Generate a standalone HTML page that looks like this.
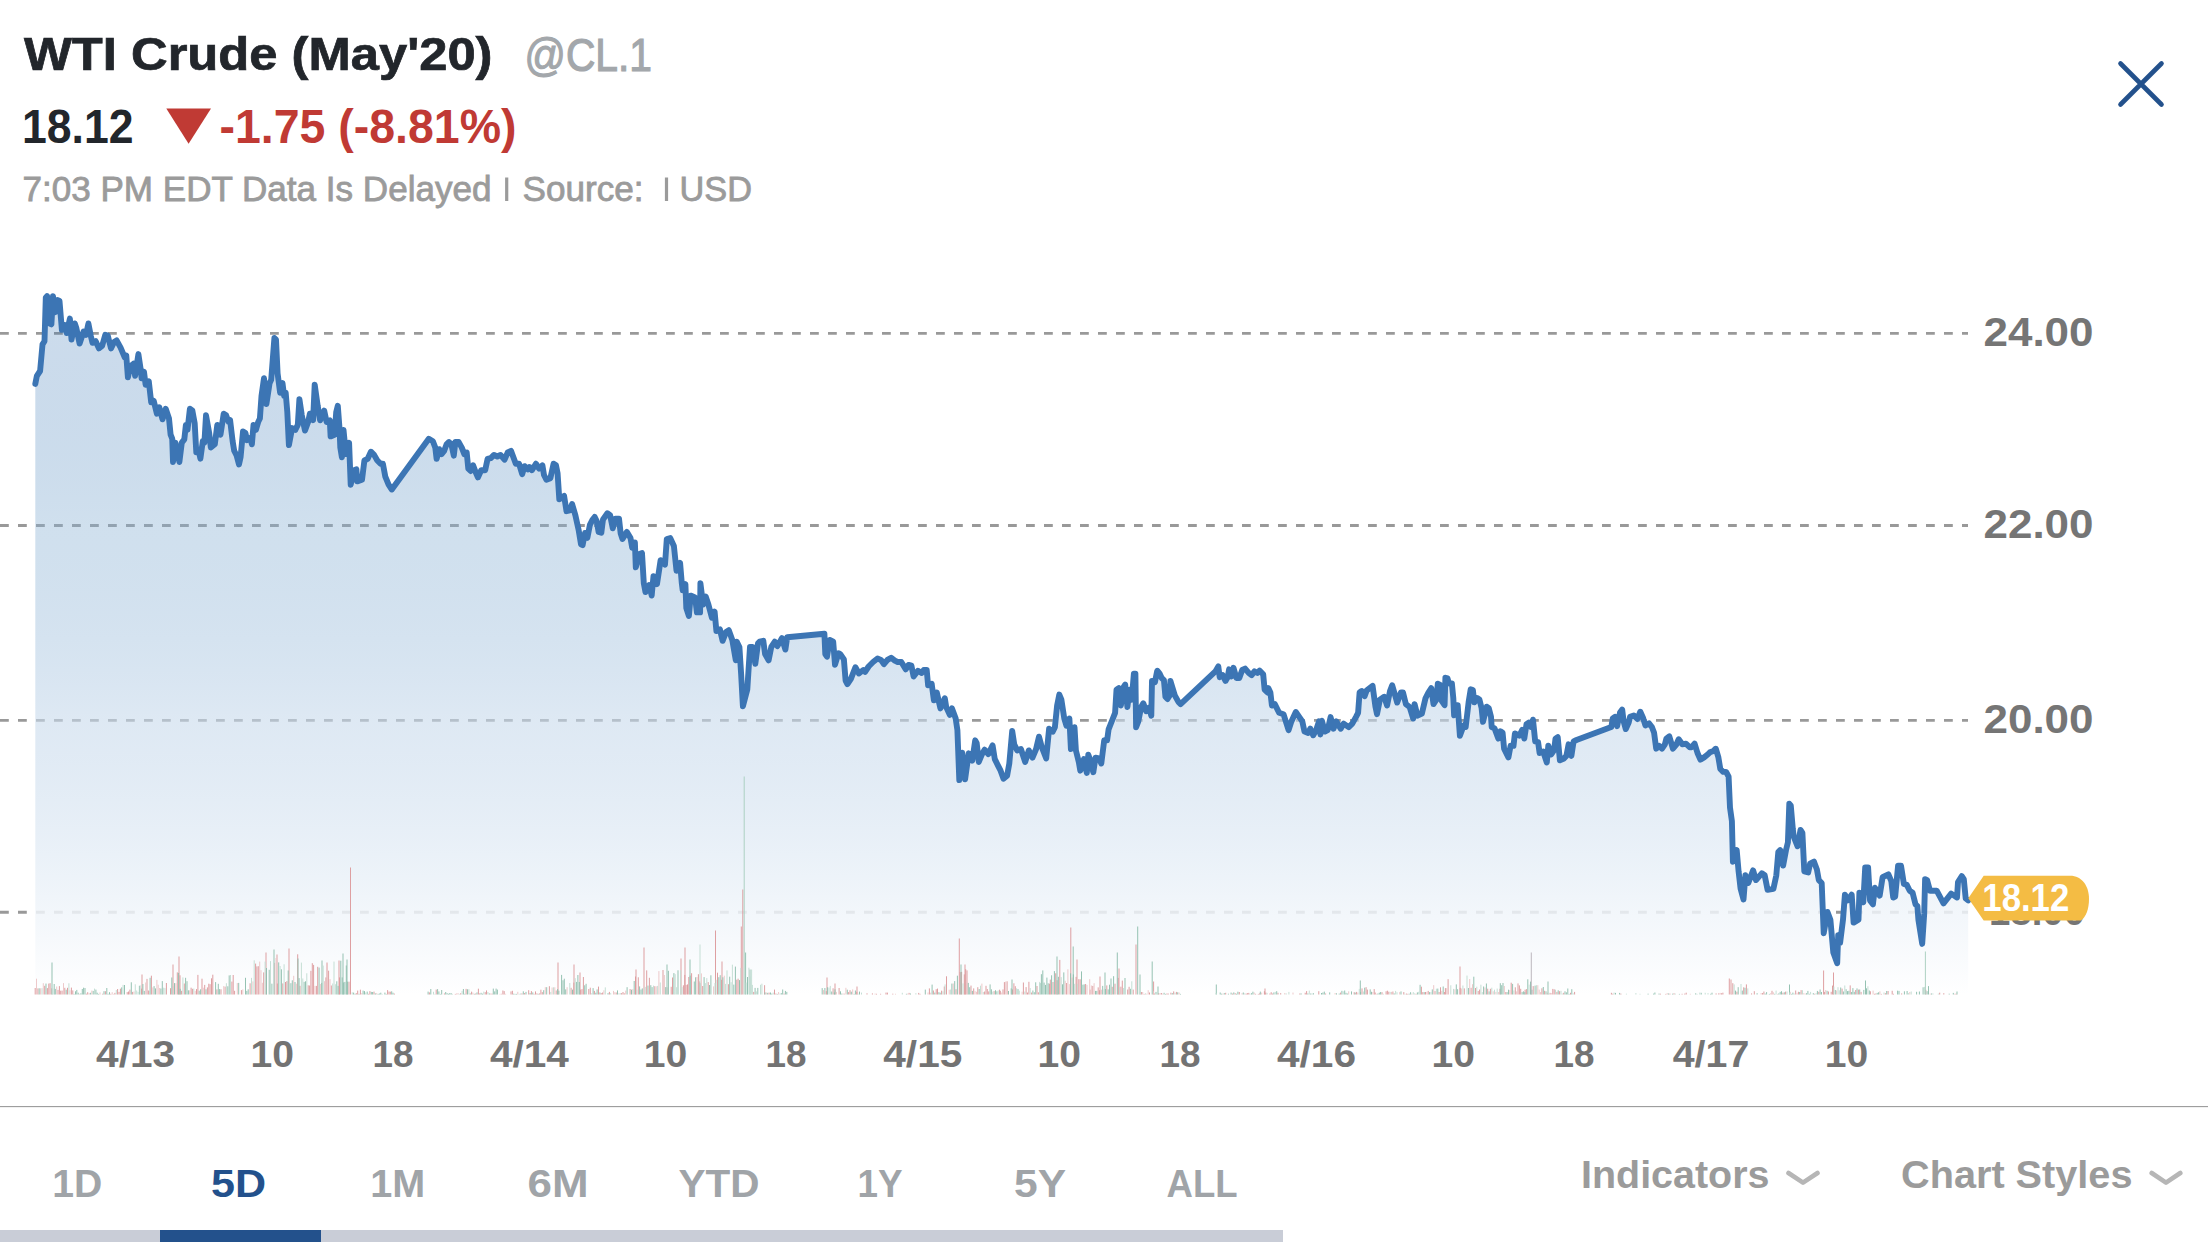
<!DOCTYPE html><html lang="en"><head><meta charset="utf-8"><title>WTI Crude (May'20) @CL.1</title><style>html,body{margin:0;padding:0;background:#fff;overflow:hidden}svg{display:block}text{font-family:"Liberation Sans", Arial, sans-serif}</style></head><body>
<svg width="2208" height="1242" viewBox="0 0 2208 1242">
<defs><linearGradient id="ag" x1="0" y1="295" x2="0" y2="995" gradientUnits="userSpaceOnUse"><stop offset="0" stop-color="rgb(40,105,175)" stop-opacity="0.23"/><stop offset="0.329" stop-color="rgb(137,177,212)" stop-opacity="0.4"/><stop offset="0.607" stop-color="rgb(200,218,236)" stop-opacity="0.6"/><stop offset="0.881" stop-color="rgb(240,245,250)" stop-opacity="0.85"/><stop offset="1" stop-color="#ffffff" stop-opacity="0.95"/></linearGradient></defs>
<rect width="2208" height="1242" fill="#fff"/>
<text x="24" y="69.9" font-size="45.5" fill="#22262b" font-weight="700" text-anchor="start" textLength="468.5" lengthAdjust="spacingAndGlyphs" stroke="#22262b" stroke-width="0.7">WTI Crude (May'20)</text>
<text x="524.5" y="71.2" font-size="46" fill="#a3a7ab" font-weight="400" text-anchor="start" textLength="127.5" lengthAdjust="spacingAndGlyphs" stroke="#a3a7ab" stroke-width="1.2">@CL.1</text>
<text x="22" y="143.2" font-size="48.5" fill="#22262b" font-weight="700" text-anchor="start" textLength="111.5" lengthAdjust="spacingAndGlyphs" >18.12</text>
<path d="M166.3 108.4H211L188.6 143.7Z" fill="#c03a34"/>
<text x="219.5" y="143.2" font-size="48.5" fill="#c03a34" font-weight="700" text-anchor="start" textLength="297" lengthAdjust="spacingAndGlyphs" >-1.75 (-8.81%)</text>
<text x="22.5" y="201.1" font-size="34.3" fill="#9b9b9b" font-weight="400" text-anchor="start" textLength="469" lengthAdjust="spacingAndGlyphs" stroke="#9b9b9b" stroke-width="0.8">7:03 PM EDT Data Is Delayed</text>
<text x="522.5" y="201.1" font-size="34.3" fill="#9b9b9b" font-weight="400" text-anchor="start" textLength="121" lengthAdjust="spacingAndGlyphs" stroke="#9b9b9b" stroke-width="0.8">Source:</text>
<text x="679.5" y="201.1" font-size="34.3" fill="#9b9b9b" font-weight="400" text-anchor="start" textLength="72.5" lengthAdjust="spacingAndGlyphs" stroke="#9b9b9b" stroke-width="0.8">USD</text>
<path d="M506.7 177.6v23.5M666.5 177.6v23.5" stroke="#9b9b9b" stroke-width="3.2"/>
<path d="M2120.5 63.5L2161.5 104.5M2161.5 63.5L2120.5 104.5" stroke="#23518c" stroke-width="4.6" stroke-linecap="round"/>
<g stroke="#999" stroke-width="2.9" stroke-dasharray="8.8 9.2"><line x1="0" y1="333.4" x2="1968" y2="333.4"/><line x1="0" y1="525.5" x2="1968" y2="525.5"/><line x1="0" y1="720.4" x2="1968" y2="720.4"/><line x1="0" y1="912.2" x2="1968" y2="912.2"/></g>
<path d="M35.3 383.9 L36.9 375.8 L40.1 371.0 L42.5 344.4 L44.5 341.2 L45.8 297.7 L47.1 296.1 L49.8 323.5 L51.4 324.3 L53.0 296.1 L55.4 312.2 L57.8 300.1 L59.5 300.9 L61.1 320.3 L61.9 329.9 L65.1 325.1 L66.7 333.1 L69.9 318.6 L71.5 339.6 L74.8 323.5 L76.4 328.3 L79.6 343.6 L83.6 331.5 L86.0 334.8 L88.4 323.5 L90.9 336.4 L92.5 342.8 L95.7 341.2 L98.9 348.4 L102.1 346.0 L105.3 334.8 L107.8 335.6 L111.0 348.4 L114.2 342.0 L116.6 340.4 L120.6 347.6 L124.7 357.3 L126.3 355.7 L127.9 377.4 L130.3 366.2 L133.5 363.7 L135.1 375.8 L138.4 354.1 L140.8 370.2 L141.6 378.2 L144.0 371.8 L145.6 384.7 L148.8 381.4 L151.2 402.4 L153.7 400.8 L156.9 413.7 L159.3 407.2 L162.5 419.3 L165.7 408.8 L169.0 418.5 L170.6 434.6 L172.2 438.6 L173.0 462.0 L175.4 442.6 L179.4 462.0 L181.8 442.6 L184.3 439.4 L185.9 424.9 L187.5 429.8 L189.9 408.8 L192.3 410.4 L194.7 423.3 L196.3 452.3 L198.7 450.7 L200.4 458.7 L202.8 441.0 L204.4 442.6 L206.0 415.3 L209.2 433.0 L210.8 447.5 L214.8 444.3 L217.3 424.9 L220.5 434.6 L223.7 413.7 L226.1 415.3 L228.5 421.7 L230.1 420.1 L232.6 441.0 L234.2 450.7 L236.6 455.5 L239.0 464.4 L240.6 457.1 L243.0 431.4 L245.4 433.0 L247.1 440.2 L250.3 437.8 L251.9 444.3 L253.5 424.9 L255.9 429.8 L258.3 421.7 L259.9 418.5 L261.5 395.9 L264.0 378.2 L266.4 404.0 L269.6 383.1 L271.2 379.8 L274.4 338.0 L276.0 339.6 L277.6 373.4 L280.1 392.7 L282.5 383.1 L284.1 395.9 L285.7 392.7 L287.3 412.0 L288.9 445.1 L292.1 428.1 L295.4 429.8 L297.8 424.9 L299.4 399.2 L301.8 415.3 L305.0 430.6 L308.2 421.7 L309.9 413.7 L313.1 420.1 L314.7 384.7 L317.7 405.8 L320.1 420.3 L324.2 410.6 L326.6 421.9 L329.8 420.3 L330.6 436.4 L334.6 434.8 L336.2 412.2 L337.8 405.8 L339.5 428.3 L340.3 447.6 L341.9 457.3 L343.5 429.9 L345.9 454.1 L349.1 442.8 L350.7 484.7 L353.9 470.2 L356.4 469.4 L357.2 481.4 L362.0 479.8 L364.4 460.5 L367.6 458.9 L370.9 451.7 L374.1 454.9 L377.3 460.5 L380.5 463.7 L382.9 463.7 L385.3 476.6 L388.6 484.7 L391.8 489.5 L428.8 438.8 L432.9 441.2 L435.3 447.6 L436.6 458.9 L439.3 449.2 L441.7 454.1 L444.1 450.9 L446.5 444.4 L449.0 442.0 L451.4 444.4 L453.8 455.7 L455.4 442.0 L458.6 442.0 L461.8 447.6 L464.3 454.1 L466.7 452.5 L468.3 468.6 L470.7 471.0 L473.1 465.3 L475.5 471.8 L477.9 477.4 L481.2 470.2 L485.2 470.2 L487.6 458.9 L490.8 458.1 L494.0 454.9 L497.3 456.5 L500.5 454.9 L504.5 459.7 L507.7 452.5 L511.0 450.9 L513.4 457.3 L515.8 463.7 L519.0 463.7 L522.2 474.2 L524.6 466.2 L527.9 469.4 L529.5 467.0 L531.9 470.2 L535.9 463.7 L539.1 468.6 L542.4 465.3 L544.0 475.0 L546.4 479.8 L550.4 478.2 L553.6 463.7 L556.0 465.3 L557.6 473.4 L559.3 499.2 L564.1 495.9 L566.5 511.2 L569.7 510.4 L572.1 504.0 L575.4 515.3 L578.6 529.8 L581.0 544.3 L582.6 545.1 L585.0 533.0 L587.4 537.8 L589.9 524.9 L592.3 520.1 L594.7 516.9 L596.8 521.3 L598.6 531.9 L601.3 532.8 L603.0 519.5 L607.4 513.3 L610.1 515.1 L612.8 528.3 L615.4 518.6 L619.0 518.6 L620.7 533.6 L622.5 539.0 L626.9 531.9 L630.5 538.1 L632.2 547.8 L634.9 542.5 L635.8 567.3 L639.3 554.0 L642.0 553.1 L643.8 583.2 L645.5 592.1 L649.1 585.0 L651.7 595.6 L653.5 576.1 L657.0 584.1 L660.6 560.2 L665.0 564.6 L666.8 539.0 L670.3 538.1 L673.9 546.0 L676.5 570.8 L680.1 562.9 L681.8 583.2 L682.7 590.3 L685.4 584.1 L686.3 608.0 L688.9 616.0 L690.7 595.6 L695.1 597.4 L696.9 612.4 L700.1 612.4 L700.4 583.2 L703.1 604.5 L705.7 596.5 L708.4 604.5 L711.9 617.8 L714.6 611.6 L716.4 631.0 L719.9 629.3 L722.6 640.8 L726.1 631.9 L728.8 630.2 L732.3 639.9 L734.1 650.5 L735.8 660.3 L736.7 641.7 L739.4 647.0 L741.1 673.5 L742.9 706.3 L747.3 689.5 L750.0 647.0 L752.7 647.0 L755.3 663.8 L758.0 643.4 L759.7 641.7 L763.3 640.8 L765.1 654.1 L768.6 660.3 L771.3 647.0 L774.8 641.7 L777.4 646.1 L781.9 638.1 L785.4 649.6 L787.2 637.2 L824.4 633.7 L825.3 654.1 L827.0 656.7 L829.7 639.9 L833.2 641.7 L835.0 664.7 L838.5 653.2 L840.3 654.1 L843.9 659.4 L845.6 680.6 L847.4 684.2 L850.9 678.9 L855.4 667.3 L858.9 673.5 L863.3 670.0 L865.1 671.8 L868.6 666.5 L873.1 662.0 L877.5 658.5 L881.0 659.9 L883.9 664.2 L887.5 659.9 L891.2 657.7 L894.8 660.6 L897.7 662.0 L901.3 662.0 L905.7 669.3 L908.6 664.9 L911.4 665.7 L913.6 676.5 L918.0 670.7 L921.6 672.9 L923.8 670.0 L926.7 670.0 L928.1 685.2 L931.7 683.8 L933.9 700.4 L936.8 692.5 L940.4 708.4 L944.8 698.3 L946.2 707.0 L949.9 714.9 L952.0 708.4 L955.7 718.6 L957.4 730.1 L959.3 780.1 L962.2 752.6 L965.1 779.4 L968.7 753.3 L972.3 760.6 L975.2 740.3 L976.7 743.2 L978.8 762.0 L981.7 754.8 L984.6 749.7 L988.3 754.1 L992.6 745.4 L994.8 759.1 L998.4 766.4 L1000.6 770.7 L1003.5 778.7 L1007.1 775.8 L1009.3 763.5 L1012.2 730.9 L1014.3 744.6 L1017.2 750.4 L1020.9 749.0 L1025.2 762.0 L1028.8 750.4 L1032.5 757.7 L1036.1 749.0 L1039.0 736.7 L1041.9 747.5 L1046.2 758.4 L1049.1 728.7 L1052.8 731.6 L1054.9 727.2 L1057.1 705.5 L1059.3 694.6 L1061.4 699.7 L1064.3 718.6 L1066.5 725.8 L1069.4 718.6 L1070.9 749.0 L1074.5 727.2 L1075.9 750.4 L1078.8 762.0 L1080.3 770.7 L1083.9 759.1 L1086.8 772.9 L1088.3 754.8 L1090.4 760.6 L1093.3 772.2 L1095.5 757.7 L1099.1 758.4 L1101.3 763.5 L1104.2 740.3 L1107.1 740.3 L1108.6 729.4 L1111.4 722.2 L1115.1 712.8 L1116.5 689.6 L1118.7 688.1 L1120.9 705.5 L1123.0 688.1 L1125.2 684.5 L1127.4 707.0 L1129.6 689.6 L1131.7 699.7 L1133.9 673.6 L1135.4 673.6 L1136.1 727.2 L1138.3 721.4 L1141.2 707.0 L1143.3 703.3 L1146.2 711.3 L1149.1 707.7 L1151.3 715.7 L1152.0 680.9 L1154.9 682.3 L1157.1 671.4 L1157.4 670.7 L1159.6 673.6 L1161.7 678.0 L1163.9 680.1 L1165.4 696.8 L1167.5 699.0 L1169.7 695.4 L1170.4 680.9 L1172.6 688.1 L1174.8 695.4 L1178.4 701.9 L1180.6 704.1 L1215.4 671.4 L1218.3 666.4 L1219.7 677.2 L1222.6 675.1 L1225.5 680.9 L1227.7 677.2 L1229.1 669.3 L1231.3 676.5 L1233.5 667.8 L1236.4 678.0 L1239.3 678.0 L1242.2 670.0 L1245.1 668.6 L1248.7 672.9 L1251.6 675.1 L1254.5 671.4 L1257.4 672.9 L1259.6 670.7 L1263.2 674.3 L1264.6 689.6 L1267.5 692.5 L1268.3 688.1 L1270.4 692.5 L1271.9 705.5 L1274.8 704.1 L1279.1 712.8 L1283.5 714.2 L1288.6 730.1 L1291.4 721.4 L1295.8 712.0 L1299.4 717.1 L1302.3 721.4 L1304.5 731.6 L1308.1 733.0 L1310.3 728.7 L1313.2 735.2 L1316.1 730.1 L1319.0 721.4 L1320.4 734.5 L1321.9 720.7 L1324.8 731.6 L1327.7 730.1 L1330.6 717.1 L1333.5 728.7 L1336.4 721.4 L1340.7 728.7 L1343.6 723.6 L1348.7 727.2 L1352.3 723.6 L1355.9 717.1 L1358.1 712.8 L1359.6 692.5 L1361.7 691.0 L1364.6 696.1 L1366.8 690.3 L1369.7 688.1 L1372.6 685.9 L1375.5 707.0 L1377.0 714.2 L1379.9 699.7 L1384.2 696.8 L1387.1 705.5 L1390.0 691.0 L1392.2 685.2 L1394.3 692.5 L1397.2 702.6 L1400.9 692.5 L1403.0 692.5 L1405.9 704.1 L1409.6 707.0 L1413.2 718.6 L1414.6 704.1 L1417.5 715.7 L1421.9 713.5 L1425.5 698.3 L1428.4 692.5 L1431.3 688.1 L1433.5 704.1 L1436.4 699.7 L1437.8 683.8 L1440.3 684.9 L1441.7 700.9 L1444.6 705.2 L1445.4 677.7 L1447.5 678.4 L1449.0 683.5 L1451.9 683.5 L1453.3 698.0 L1454.1 715.4 L1455.5 705.2 L1457.7 705.2 L1459.9 735.7 L1462.0 729.9 L1463.5 725.5 L1465.7 727.0 L1468.6 702.3 L1470.7 689.3 L1472.9 690.0 L1474.3 702.3 L1477.2 698.0 L1479.4 699.4 L1481.6 708.1 L1483.0 721.9 L1486.7 706.7 L1488.8 708.1 L1491.0 716.8 L1491.7 727.0 L1494.6 728.4 L1498.3 738.6 L1500.4 731.3 L1502.6 732.8 L1504.1 748.7 L1508.4 757.4 L1510.6 745.8 L1513.5 745.8 L1514.9 733.5 L1519.3 735.7 L1522.2 729.9 L1524.3 738.6 L1526.5 724.1 L1528.7 722.6 L1530.9 727.0 L1533.0 719.7 L1535.2 741.4 L1538.1 742.2 L1539.6 753.0 L1543.2 751.6 L1546.8 762.5 L1548.3 745.8 L1551.2 754.5 L1554.1 750.1 L1555.5 738.6 L1557.7 737.1 L1559.9 760.3 L1563.5 758.8 L1566.4 755.9 L1568.6 744.3 L1571.4 755.9 L1573.6 741.4 L1576.5 740.0 L1611.3 727.0 L1612.8 718.3 L1614.9 716.8 L1617.1 726.2 L1620.0 712.5 L1622.2 709.6 L1623.6 721.2 L1625.8 729.1 L1628.7 722.6 L1630.1 716.8 L1633.8 715.4 L1637.4 719.0 L1640.3 711.7 L1643.2 718.3 L1645.4 725.5 L1649.0 723.3 L1651.9 727.0 L1654.1 732.8 L1656.2 748.7 L1659.1 745.8 L1662.0 748.7 L1664.9 744.3 L1666.4 738.6 L1669.3 736.4 L1672.9 748.7 L1676.5 744.3 L1678.7 739.3 L1682.3 744.3 L1685.9 743.6 L1689.6 747.2 L1691.7 747.2 L1694.6 743.6 L1697.5 753.0 L1700.4 759.6 L1704.1 757.4 L1707.7 754.5 L1709.9 752.3 L1713.5 750.9 L1715.7 748.7 L1715.8 748.7 L1718.4 757.4 L1720.3 769.0 L1723.2 771.9 L1726.1 771.9 L1728.6 776.7 L1730.0 807.6 L1731.9 821.2 L1732.9 861.7 L1736.7 850.1 L1738.6 871.4 L1740.6 888.8 L1743.5 899.4 L1745.4 875.3 L1748.3 883.0 L1753.1 870.4 L1756.0 880.1 L1761.8 873.3 L1764.7 875.3 L1767.6 889.8 L1773.4 888.8 L1776.3 875.3 L1778.3 852.1 L1780.2 850.1 L1783.1 865.6 L1786.0 850.1 L1787.9 842.4 L1789.3 803.8 L1790.8 805.7 L1792.8 828.9 L1793.7 836.6 L1797.6 846.3 L1800.5 829.9 L1802.4 832.8 L1804.3 871.4 L1808.2 872.4 L1810.1 863.7 L1814.0 861.7 L1816.9 869.5 L1818.8 880.1 L1821.7 883.0 L1823.7 933.2 L1827.5 912.0 L1830.4 919.7 L1833.3 952.6 L1837.2 963.2 L1838.2 935.2 L1840.1 942.9 L1843.0 919.7 L1844.9 894.6 L1847.8 900.4 L1851.7 894.6 L1853.6 922.6 L1858.5 919.7 L1859.4 892.7 L1863.3 902.3 L1865.2 867.5 L1868.1 867.5 L1870.0 900.4 L1872.9 904.3 L1874.9 887.8 L1879.7 895.6 L1882.6 877.2 L1888.4 874.3 L1891.3 881.1 L1893.2 897.5 L1895.2 896.5 L1898.1 865.6 L1901.0 865.6 L1903.9 884.0 L1906.8 884.9 L1909.7 890.7 L1912.6 892.7 L1915.5 904.3 L1917.4 906.2 L1918.4 919.7 L1922.2 943.9 L1924.2 913.9 L1925.1 879.1 L1927.1 880.1 L1930.0 890.7 L1936.7 890.7 L1943.5 903.3 L1951.2 893.6 L1957.0 897.5 L1958.0 882.0 L1961.8 876.2 L1963.8 879.1 L1965.7 898.5 L1968.2 900.4 L1968.2 994.5 L35.3 994.5 Z" fill="url(#ag)"/>
<path d="M35.2 994.5v-6.5M37.9 994.5v-6.1M44.7 994.5v-8.7M47.4 994.5v-6.4M48.8 994.5v-10.9M50.1 994.5v-11.3M58.0 994.5v-4.6M59.4 994.5v-8.4M60.7 994.5v-3.8M62.1 994.5v-3.9M64.8 994.5v-6.7M67.5 994.5v-6.7M71.4 994.5v-6.9M72.8 994.5v-4.1M86.4 994.5v-0.8M87.7 994.5v-2.3M102.7 994.5v-0.8M105.4 994.5v-3.3M110.8 994.5v-0.7M114.9 994.5v-1.6M117.6 994.5v-5.5M119.0 994.5v-2.6M120.4 994.5v-5.8M127.2 994.5v-2.4M128.5 994.5v-3.0M129.9 994.5v-4.9M132.6 994.5v-2.6M141.6 994.5v-5.9M147.0 994.5v-15.6M148.4 994.5v-4.0M151.4 994.5v-18.8M166.4 994.5v-11.5M170.5 994.5v-6.3M177.3 994.5v-22.1M180.0 994.5v-19.2M181.6 994.5v-3.7M184.3 994.5v-11.0M191.1 994.5v-6.8M192.4 994.5v-5.7M196.5 994.5v-5.4M197.9 994.5v-19.6M202.0 994.5v-15.8M204.7 994.5v-9.6M207.4 994.5v-7.1M208.8 994.5v-10.8M210.1 994.5v-10.3M211.5 994.5v-16.2M212.8 994.5v-19.8M216.9 994.5v-5.1M221.0 994.5v-5.2M225.1 994.5v-7.9M231.9 994.5v-12.9M233.2 994.5v-19.5M234.6 994.5v-3.7M241.4 994.5v-4.4M250.1 994.5v-11.2M255.6 994.5v-30.9M256.9 994.5v-28.1M258.3 994.5v-28.3M263.7 994.5v-22.1M277.3 994.5v-11.0M282.8 994.5v-11.1M285.5 994.5v-12.5M286.9 994.5v-13.4M297.7 994.5v-40.2M300.0 994.5v-8.7M308.2 994.5v-9.2M309.6 994.5v-9.0M310.9 994.5v-23.7M312.3 994.5v-31.3M313.6 994.5v-29.6M316.4 994.5v-8.6M317.7 994.5v-27.7M325.9 994.5v-17.1M328.6 994.5v-23.8M331.3 994.5v-9.0M339.5 994.5v-17.1M349.0 994.5v-12.8M356.3 994.5v-1.4M357.7 994.5v-3.9M360.4 994.5v-4.8M368.6 994.5v-0.7M369.9 994.5v-3.4M374.0 994.5v-2.9M387.6 994.5v-4.4M389.0 994.5v-2.9M390.3 994.5v-2.8M394.4 994.5v-0.9M429.4 994.5v-2.1M436.2 994.5v-4.9M444.4 994.5v-1.1M455.3 994.5v-0.6M460.7 994.5v-1.3M466.1 994.5v-5.6M471.6 994.5v-2.8M475.7 994.5v-1.0M478.4 994.5v-5.8M479.7 994.5v-1.1M485.2 994.5v-2.4M486.5 994.5v-4.1M492.0 994.5v-0.9M502.9 994.5v-4.0M504.2 994.5v-3.4M511.0 994.5v-3.1M512.4 994.5v-3.7M521.9 994.5v-1.1M524.6 994.5v-1.5M528.7 994.5v-4.3M531.4 994.5v-3.4M534.1 994.5v-0.7M535.5 994.5v-3.1M536.9 994.5v-1.1M539.6 994.5v-1.1M540.9 994.5v-4.8M542.3 994.5v-2.4M549.4 994.5v-8.3M556.2 994.5v-4.0M571.1 994.5v-6.7M573.9 994.5v-11.9M580.7 994.5v-4.9M582.0 994.5v-5.4M583.4 994.5v-17.5M588.8 994.5v-5.5M590.3 994.5v-6.8M594.4 994.5v-3.6M598.5 994.5v-7.9M601.2 994.5v-1.5M602.6 994.5v-2.0M609.4 994.5v-2.6M616.2 994.5v-2.0M621.6 994.5v-1.4M623.0 994.5v-2.5M624.3 994.5v-1.2M630.1 994.5v-5.5M635.5 994.5v-18.0M638.3 994.5v-17.2M646.7 994.5v-24.1M649.4 994.5v-16.7M654.8 994.5v-8.3M663.0 994.5v-24.5M671.2 994.5v-7.7M672.5 994.5v-17.0M683.4 994.5v-9.2M684.8 994.5v-19.6M686.1 994.5v-9.6M687.5 994.5v-10.1M688.8 994.5v-17.5M691.6 994.5v-21.3M698.4 994.5v-20.3M699.7 994.5v-13.1M702.7 994.5v-8.5M708.2 994.5v-12.4M717.5 994.5v-21.8M721.6 994.5v-14.7M728.4 994.5v-10.3M736.8 994.5v-14.8M738.1 994.5v-15.8M753.7 994.5v-2.6M764.6 994.5v-9.3M769.1 994.5v-1.9M774.5 994.5v-4.9M775.9 994.5v-1.0M784.1 994.5v-0.9M826.3 994.5v-3.4M833.1 994.5v-6.2M839.1 994.5v-6.5M848.6 994.5v-2.4M850.0 994.5v-4.3M856.8 994.5v-2.7M867.0 994.5v-1.2M872.4 994.5v-1.1M876.5 994.5v-0.7M880.6 994.5v-0.7M886.0 994.5v-1.9M887.4 994.5v-1.9M892.8 994.5v-0.8M909.1 994.5v-1.6M918.7 994.5v-1.6M920.0 994.5v-0.7M929.4 994.5v-6.1M933.4 994.5v-4.0M936.2 994.5v-5.3M937.5 994.5v-5.9M941.6 994.5v-3.8M944.3 994.5v-8.0M946.5 994.5v-18.2M956.0 994.5v-5.3M960.2 994.5v-22.4M961.6 994.5v-22.6M964.3 994.5v-20.1M965.7 994.5v-25.3M967.0 994.5v-24.1M971.0 994.5v-8.9M973.7 994.5v-6.1M977.8 994.5v-7.3M984.6 994.5v-3.0M986.0 994.5v-8.7M987.3 994.5v-5.5M988.7 994.5v-3.1M994.1 994.5v-3.4M999.6 994.5v-4.8M1000.3 994.5v-3.6M1003.0 994.5v-5.1M1004.4 994.5v-12.4M1007.1 994.5v-13.2M1012.5 994.5v-5.1M1013.9 994.5v-11.2M1015.3 994.5v-8.3M1023.4 994.5v-12.0M1026.1 994.5v-7.4M1027.5 994.5v-2.0M1028.9 994.5v-12.7M1031.6 994.5v-2.0M1037.0 994.5v-8.5M1038.4 994.5v-2.2M1049.6 994.5v-10.8M1050.3 994.5v-14.9M1053.0 994.5v-12.5M1055.7 994.5v-21.2M1057.1 994.5v-14.3M1059.8 994.5v-34.6M1066.6 994.5v-11.5M1076.1 994.5v-17.6M1078.8 994.5v-15.3M1080.2 994.5v-15.2M1085.6 994.5v-10.5M1090.0 994.5v-4.9M1092.8 994.5v-8.6M1098.2 994.5v-7.1M1099.6 994.5v-4.3M1100.0 994.5v-18.0M1106.8 994.5v-9.1M1112.2 994.5v-7.7M1115.0 994.5v-10.8M1118.2 994.5v-16.6M1120.9 994.5v-7.8M1122.3 994.5v-13.9M1127.7 994.5v-5.0M1129.1 994.5v-7.7M1133.2 994.5v-4.9M1141.4 994.5v-2.5M1144.1 994.5v-0.6M1149.5 994.5v-2.0M1154.6 994.5v-1.0M1158.7 994.5v-1.2M1161.4 994.5v-1.5M1166.9 994.5v-1.0M1168.2 994.5v-1.0M1170.9 994.5v-1.8M1173.7 994.5v-3.1M1176.4 994.5v-2.6M1225.7 994.5v-1.7M1232.5 994.5v-0.9M1235.2 994.5v-1.3M1239.3 994.5v-2.5M1246.1 994.5v-0.9M1247.4 994.5v-1.4M1248.8 994.5v-1.6M1255.6 994.5v-0.7M1258.3 994.5v-0.6M1259.7 994.5v-1.1M1264.4 994.5v-3.3M1265.8 994.5v-1.9M1269.9 994.5v-1.0M1271.2 994.5v-2.3M1272.6 994.5v-1.0M1278.0 994.5v-1.7M1280.7 994.5v-1.4M1299.8 994.5v-1.0M1305.2 994.5v-1.7M1306.6 994.5v-3.4M1318.8 994.5v-3.3M1325.6 994.5v-1.0M1340.6 994.5v-1.9M1354.2 994.5v-2.3M1356.6 994.5v-2.6M1362.0 994.5v-6.1M1366.1 994.5v-7.3M1367.4 994.5v-4.9M1374.2 994.5v-5.4M1375.2 994.5v-2.0M1382.0 994.5v-2.3M1386.1 994.5v-3.2M1387.4 994.5v-3.8M1388.8 994.5v-2.8M1392.9 994.5v-3.0M1403.8 994.5v-2.4M1406.5 994.5v-0.9M1407.8 994.5v-0.7M1416.0 994.5v-0.7M1421.4 994.5v-7.8M1422.8 994.5v-2.4M1425.5 994.5v-2.5M1428.2 994.5v-3.6M1435.0 994.5v-3.4M1439.1 994.5v-2.5M1440.5 994.5v-7.2M1444.6 994.5v-2.5M1445.4 994.5v-6.4M1448.1 994.5v-15.3M1460.2 994.5v-6.7M1464.3 994.5v-6.1M1471.1 994.5v-6.7M1475.5 994.5v-6.5M1478.2 994.5v-3.5M1479.6 994.5v-5.0M1487.7 994.5v-5.8M1490.4 994.5v-5.7M1500.0 994.5v-5.7M1505.8 994.5v-2.5M1511.2 994.5v-11.8M1515.3 994.5v-7.2M1518.0 994.5v-11.1M1519.4 994.5v-9.1M1520.7 994.5v-5.7M1525.1 994.5v-4.8M1526.4 994.5v-5.4M1533.2 994.5v-8.4M1541.9 994.5v-6.2M1544.6 994.5v-3.7M1550.1 994.5v-1.6M1552.8 994.5v-5.6M1554.2 994.5v-5.2M1556.9 994.5v-2.6M1559.6 994.5v-3.3M1563.7 994.5v-1.7M1570.5 994.5v-1.7M1574.6 994.5v-2.6M1611.4 994.5v-1.7M1612.8 994.5v-0.8M1620.9 994.5v-0.9M1660.4 994.5v-0.8M1665.8 994.5v-0.6M1669.9 994.5v-0.9M1674.0 994.5v-1.2M1682.1 994.5v-0.7M1684.8 994.5v-0.9M1686.2 994.5v-1.8M1716.1 994.5v-1.1M1718.8 994.5v-1.2M1721.6 994.5v-1.3M1722.9 994.5v-1.8M1732.8 994.5v-11.3M1736.9 994.5v-2.8M1743.7 994.5v-7.2M1746.4 994.5v-10.1M1751.6 994.5v-1.1M1754.3 994.5v-3.3M1762.5 994.5v-1.4M1763.9 994.5v-3.0M1772.0 994.5v-3.7M1782.9 994.5v-1.8M1785.6 994.5v-2.9M1795.7 994.5v-4.0M1798.4 994.5v-2.7M1801.1 994.5v-4.4M1814.7 994.5v-0.7M1818.8 994.5v-2.7M1824.4 994.5v-2.6M1828.5 994.5v-3.0M1831.2 994.5v-2.7M1832.5 994.5v-8.9M1842.1 994.5v-5.9M1850.2 994.5v-9.1M1855.7 994.5v-4.5M1858.4 994.5v-4.9M1861.1 994.5v-2.6M1870.4 994.5v-3.2M1874.5 994.5v-0.7M1875.8 994.5v-1.0M1881.3 994.5v-0.6M1885.4 994.5v-1.3M1888.1 994.5v-3.5M1892.2 994.5v-3.7M1893.5 994.5v-0.7M1901.7 994.5v-1.1M1925.8 994.5v-4.7M1939.7 994.5v-1.8M1943.8 994.5v-1.3M1956.0 994.5v-0.8M142.0 994.5v-20.0M173.0 994.5v-30.0M179.0 994.5v-38.0M266.0 994.5v-42.0M277.0 994.5v-40.0M289.0 994.5v-46.0M327.0 994.5v-32.0M339.0 994.5v-34.0M350.5 994.5v-127.0M558.0 994.5v-32.0M574.0 994.5v-30.0M580.0 994.5v-22.0M636.0 994.5v-25.0M644.0 994.5v-47.0M681.0 994.5v-36.0M685.0 994.5v-47.0M715.5 994.5v-64.0M722.0 994.5v-33.0M741.3 994.5v-68.0M742.8 994.5v-105.0M827.0 994.5v-17.0M835.0 994.5v-11.0M857.0 994.5v-8.0M959.3 994.5v-56.0M965.0 994.5v-30.0M1070.8 994.5v-67.0M1077.0 994.5v-35.0M1119.0 994.5v-26.0M1136.0 994.5v-50.0M1153.6 994.5v-13.0M1265.0 994.5v-6.0M1460.0 994.5v-28.0M1729.3 994.5v-16.0M1731.0 994.5v-15.0M1823.6 994.5v-24.0M1833.5 994.5v-22.0" stroke="#dc9a9c" stroke-width="0.95" fill="none"/><path d="M36.5 994.5v-15.8M40.6 994.5v-6.2M43.3 994.5v-11.3M51.5 994.5v-6.2M56.7 994.5v-8.0M63.5 994.5v-11.4M70.0 994.5v-4.2M79.6 994.5v-0.7M89.1 994.5v-1.3M91.8 994.5v-3.9M100.0 994.5v-2.1M112.2 994.5v-2.3M113.6 994.5v-0.6M134.0 994.5v-3.0M145.7 994.5v-12.0M152.8 994.5v-7.1M156.9 994.5v-14.6M158.2 994.5v-9.8M159.6 994.5v-6.5M173.2 994.5v-8.4M175.9 994.5v-11.3M189.7 994.5v-4.2M195.2 994.5v-3.6M203.3 994.5v-6.8M223.7 994.5v-8.4M237.3 994.5v-11.5M242.8 994.5v-5.1M252.9 994.5v-13.1M259.7 994.5v-32.9M261.0 994.5v-24.3M262.4 994.5v-11.7M274.6 994.5v-31.6M276.0 994.5v-36.5M293.7 994.5v-18.7M296.4 994.5v-10.8M315.0 994.5v-8.6M320.4 994.5v-10.5M324.5 994.5v-13.3M327.2 994.5v-31.0M330.0 994.5v-15.4M361.8 994.5v-1.4M376.7 994.5v-1.4M456.6 994.5v-1.1M458.0 994.5v-1.4M472.9 994.5v-1.9M490.6 994.5v-1.0M500.1 994.5v-0.7M501.5 994.5v-0.8M505.6 994.5v-0.7M517.8 994.5v-2.7M545.3 994.5v-7.4M552.1 994.5v-7.0M554.8 994.5v-7.2M567.1 994.5v-7.3M603.9 994.5v-4.2M613.5 994.5v-3.6M614.8 994.5v-2.3M625.7 994.5v-3.9M632.8 994.5v-5.4M656.2 994.5v-8.2M658.9 994.5v-23.4M664.4 994.5v-19.5M667.1 994.5v-7.2M697.0 994.5v-17.5M701.4 994.5v-21.1M713.6 994.5v-8.1M724.3 994.5v-18.8M766.4 994.5v-2.0M778.6 994.5v-2.5M823.5 994.5v-4.4M836.4 994.5v-2.6M843.2 994.5v-1.0M844.5 994.5v-0.9M845.9 994.5v-6.7M852.7 994.5v-5.1M875.1 994.5v-0.9M895.5 994.5v-0.7M907.8 994.5v-0.9M928.0 994.5v-2.0M930.7 994.5v-1.8M949.2 994.5v-4.8M953.3 994.5v-11.0M975.1 994.5v-3.4M976.5 994.5v-2.7M981.9 994.5v-10.9M1001.7 994.5v-2.0M1005.7 994.5v-12.9M1022.1 994.5v-2.8M1065.2 994.5v-13.8M1067.9 994.5v-25.2M1069.3 994.5v-10.4M1072.0 994.5v-17.0M1087.0 994.5v-9.6M1089.7 994.5v-15.3M1091.4 994.5v-9.0M1094.1 994.5v-11.3M1101.4 994.5v-4.8M1142.7 994.5v-2.5M1146.8 994.5v-0.8M1148.2 994.5v-4.3M1153.3 994.5v-3.3M1160.1 994.5v-1.4M1162.8 994.5v-0.9M1179.1 994.5v-2.0M1222.9 994.5v-0.9M1242.0 994.5v-1.3M1254.2 994.5v-2.0M1261.7 994.5v-1.9M1284.8 994.5v-1.5M1293.0 994.5v-1.9M1335.1 994.5v-1.5M1348.7 994.5v-3.2M1357.9 994.5v-1.8M1372.9 994.5v-2.5M1376.6 994.5v-0.7M1391.5 994.5v-2.6M1399.7 994.5v-2.4M1411.9 994.5v-0.9M1426.9 994.5v-2.7M1433.7 994.5v-9.4M1441.8 994.5v-3.7M1446.7 994.5v-6.4M1454.9 994.5v-5.2M1461.6 994.5v-6.0M1469.7 994.5v-15.5M1472.5 994.5v-10.3M1485.0 994.5v-7.0M1493.2 994.5v-3.2M1495.9 994.5v-2.6M1498.6 994.5v-2.5M1504.4 994.5v-8.5M1509.8 994.5v-4.5M1516.6 994.5v-3.1M1537.8 994.5v-9.3M1539.2 994.5v-4.9M1540.5 994.5v-2.4M1547.3 994.5v-1.8M1551.4 994.5v-1.4M1667.2 994.5v-1.4M1690.3 994.5v-0.7M1720.2 994.5v-1.6M1731.4 994.5v-2.8M1761.1 994.5v-1.5M1770.7 994.5v-1.4M1773.4 994.5v-2.2M1777.5 994.5v-0.6M1790.2 994.5v-2.7M1797.0 994.5v-1.4M1803.8 994.5v-1.3M1805.2 994.5v-0.9M1825.7 994.5v-4.5M1836.6 994.5v-4.0M1873.1 994.5v-3.9M1879.9 994.5v-3.2M1909.8 994.5v-2.5M1930.2 994.5v-0.9M1954.7 994.5v-0.7" stroke="#ecc6c7" stroke-width="0.95" fill="none"/><path d="M39.2 994.5v-6.2M46.0 994.5v-10.9M54.2 994.5v-10.5M55.3 994.5v-5.6M66.2 994.5v-4.8M74.1 994.5v-0.6M75.5 994.5v-3.2M76.8 994.5v-4.6M78.2 994.5v-1.8M80.9 994.5v-1.2M82.3 994.5v-5.5M83.6 994.5v-6.8M85.0 994.5v-6.5M90.4 994.5v-1.7M93.2 994.5v-3.6M95.9 994.5v-4.9M97.2 994.5v-1.8M98.6 994.5v-0.6M104.0 994.5v-3.3M106.8 994.5v-6.5M108.1 994.5v-0.7M109.5 994.5v-2.3M121.7 994.5v-7.1M124.5 994.5v-9.5M131.3 994.5v-12.2M139.4 994.5v-8.7M142.9 994.5v-10.5M144.3 994.5v-3.6M150.1 994.5v-16.7M154.1 994.5v-8.4M155.5 994.5v-6.1M160.9 994.5v-6.0M162.3 994.5v-13.4M171.8 994.5v-17.0M174.5 994.5v-11.4M178.6 994.5v-21.6M180.2 994.5v-5.7M185.6 994.5v-16.7M187.0 994.5v-13.3M188.4 994.5v-4.2M199.2 994.5v-3.8M200.6 994.5v-5.2M206.0 994.5v-5.2M215.6 994.5v-12.4M218.3 994.5v-10.7M219.6 994.5v-5.4M227.8 994.5v-8.2M229.2 994.5v-19.1M238.7 994.5v-11.6M245.5 994.5v-16.7M246.8 994.5v-3.6M248.2 994.5v-5.2M266.5 994.5v-26.5M269.2 994.5v-24.7M271.9 994.5v-10.8M278.7 994.5v-32.1M281.4 994.5v-25.2M288.2 994.5v-24.0M290.9 994.5v-11.3M292.3 994.5v-14.2M295.0 994.5v-12.5M299.1 994.5v-16.4M304.1 994.5v-12.6M305.5 994.5v-13.2M319.1 994.5v-26.9M321.8 994.5v-11.6M336.8 994.5v-13.2M338.1 994.5v-8.6M340.8 994.5v-33.8M342.2 994.5v-17.1M343.6 994.5v-12.1M344.9 994.5v-12.6M346.3 994.5v-29.0M347.6 994.5v-12.9M353.6 994.5v-1.9M355.0 994.5v-0.7M359.0 994.5v-0.7M363.1 994.5v-3.9M364.5 994.5v-3.4M367.2 994.5v-2.9M371.3 994.5v-2.6M372.6 994.5v-2.5M375.4 994.5v-1.1M378.1 994.5v-0.6M379.4 994.5v-1.0M380.8 994.5v-1.8M384.9 994.5v-1.9M386.2 994.5v-0.6M391.7 994.5v-3.2M393.0 994.5v-1.8M428.1 994.5v-2.9M430.8 994.5v-5.5M437.6 994.5v-5.4M438.9 994.5v-3.1M440.3 994.5v-0.6M441.7 994.5v-4.5M445.7 994.5v-2.5M447.1 994.5v-1.4M448.5 994.5v-0.7M449.8 994.5v-1.5M451.2 994.5v-1.3M463.4 994.5v-5.5M464.8 994.5v-0.7M467.5 994.5v-5.2M470.2 994.5v-1.2M474.3 994.5v-0.7M477.0 994.5v-2.1M481.1 994.5v-1.7M482.5 994.5v-0.8M489.3 994.5v-1.1M493.3 994.5v-5.9M494.7 994.5v-3.1M496.1 994.5v-5.9M497.4 994.5v-4.9M513.7 994.5v-0.8M515.1 994.5v-0.6M516.5 994.5v-0.6M523.3 994.5v-3.2M526.0 994.5v-2.6M530.1 994.5v-1.5M532.8 994.5v-2.1M538.2 994.5v-0.7M543.7 994.5v-4.3M546.7 994.5v-7.3M557.6 994.5v-5.4M558.9 994.5v-3.8M561.6 994.5v-19.6M563.0 994.5v-14.2M564.3 994.5v-15.8M565.7 994.5v-5.1M572.5 994.5v-4.9M576.6 994.5v-12.6M577.9 994.5v-19.5M579.3 994.5v-12.5M584.7 994.5v-9.2M586.1 994.5v-10.7M593.1 994.5v-6.4M595.8 994.5v-1.8M597.1 994.5v-5.1M599.9 994.5v-2.1M608.0 994.5v-1.4M617.5 994.5v-4.1M627.1 994.5v-7.3M631.5 994.5v-4.8M634.2 994.5v-13.5M639.6 994.5v-8.1M641.0 994.5v-5.0M642.3 994.5v-6.1M648.0 994.5v-8.9M650.8 994.5v-9.3M652.1 994.5v-7.4M665.7 994.5v-7.4M668.4 994.5v-23.7M673.9 994.5v-21.4M678.0 994.5v-24.2M690.2 994.5v-18.9M694.3 994.5v-13.0M695.6 994.5v-17.2M700.0 994.5v-11.3M704.1 994.5v-17.4M709.5 994.5v-9.5M710.9 994.5v-19.2M718.8 994.5v-17.3M720.2 994.5v-19.3M722.9 994.5v-17.2M729.7 994.5v-17.8M733.8 994.5v-9.9M735.4 994.5v-27.9M739.5 994.5v-14.4M747.5 994.5v-17.5M755.1 994.5v-6.6M757.8 994.5v-6.6M765.0 994.5v-2.1M767.7 994.5v-1.7M770.5 994.5v-2.0M771.8 994.5v-0.9M777.3 994.5v-0.6M781.3 994.5v-1.4M782.7 994.5v-5.0M785.4 994.5v-3.6M786.8 994.5v-2.6M822.2 994.5v-6.4M824.9 994.5v-6.5M827.6 994.5v-7.2M831.7 994.5v-3.0M834.4 994.5v-2.1M835.0 994.5v-5.2M840.5 994.5v-3.2M841.8 994.5v-0.9M847.3 994.5v-4.8M851.3 994.5v-2.8M854.1 994.5v-0.6M855.4 994.5v-4.0M859.5 994.5v-2.9M906.4 994.5v-0.7M910.5 994.5v-1.0M925.3 994.5v-4.9M932.1 994.5v-9.9M934.8 994.5v-1.9M938.9 994.5v-2.3M940.2 994.5v-1.8M951.9 994.5v-10.9M954.7 994.5v-13.4M957.4 994.5v-18.8M968.3 994.5v-11.6M969.7 994.5v-7.3M972.4 994.5v-3.6M979.2 994.5v-5.5M990.1 994.5v-10.1M991.4 994.5v-5.2M995.5 994.5v-4.3M996.9 994.5v-3.2M1008.5 994.5v-3.5M1011.2 994.5v-6.1M1018.0 994.5v-5.4M1032.9 994.5v-4.0M1034.3 994.5v-2.3M1035.7 994.5v-12.2M1040.1 994.5v-11.4M1041.4 994.5v-20.3M1042.8 994.5v-24.1M1044.1 994.5v-11.9M1045.5 994.5v-9.6M1046.9 994.5v-16.9M1048.2 994.5v-11.2M1051.6 994.5v-19.2M1054.4 994.5v-23.4M1058.4 994.5v-17.7M1062.5 994.5v-10.2M1063.8 994.5v-22.1M1070.6 994.5v-21.1M1073.4 994.5v-20.1M1081.5 994.5v-23.1M1082.9 994.5v-9.8M1084.2 994.5v-10.1M1095.5 994.5v-3.6M1096.8 994.5v-3.6M1102.7 994.5v-8.6M1105.4 994.5v-5.5M1108.2 994.5v-5.1M1109.5 994.5v-9.8M1113.6 994.5v-18.3M1125.0 994.5v-16.5M1130.4 994.5v-5.7M1156.0 994.5v-2.6M1164.1 994.5v-1.7M1165.5 994.5v-0.6M1172.3 994.5v-1.4M1177.7 994.5v-2.2M1180.5 994.5v-0.6M1220.2 994.5v-2.0M1221.6 994.5v-0.8M1224.3 994.5v-1.4M1228.4 994.5v-0.8M1231.1 994.5v-1.9M1233.8 994.5v-2.1M1236.5 994.5v-0.7M1237.9 994.5v-2.8M1243.3 994.5v-2.0M1251.5 994.5v-1.3M1252.9 994.5v-2.8M1260.3 994.5v-2.9M1273.9 994.5v-2.1M1276.7 994.5v-3.3M1301.1 994.5v-1.1M1307.9 994.5v-1.1M1310.7 994.5v-1.0M1313.4 994.5v-1.3M1321.5 994.5v-1.5M1322.9 994.5v-2.0M1324.3 994.5v-2.9M1329.7 994.5v-2.1M1336.5 994.5v-1.2M1339.2 994.5v-0.9M1341.9 994.5v-3.7M1344.7 994.5v-4.0M1346.0 994.5v-1.7M1347.4 994.5v-1.0M1351.5 994.5v-3.1M1355.2 994.5v-1.9M1360.6 994.5v-2.6M1364.7 994.5v-6.8M1370.2 994.5v-5.1M1371.5 994.5v-2.7M1377.9 994.5v-1.0M1379.3 994.5v-1.8M1380.6 994.5v-2.5M1394.2 994.5v-1.1M1401.0 994.5v-3.1M1409.2 994.5v-0.8M1410.6 994.5v-2.3M1417.4 994.5v-2.1M1420.1 994.5v-9.7M1424.2 994.5v-2.4M1429.6 994.5v-2.4M1432.3 994.5v-5.1M1437.8 994.5v-5.9M1443.2 994.5v-8.0M1456.3 994.5v-10.1M1457.6 994.5v-5.3M1468.4 994.5v-6.5M1473.8 994.5v-17.8M1483.6 994.5v-8.0M1486.4 994.5v-11.0M1489.1 994.5v-3.1M1500.3 994.5v-11.3M1501.7 994.5v-9.3M1503.0 994.5v-11.5M1507.1 994.5v-2.4M1508.5 994.5v-4.8M1512.6 994.5v-10.6M1522.1 994.5v-2.4M1523.4 994.5v-3.2M1524.8 994.5v-2.4M1527.8 994.5v-15.2M1530.5 994.5v-12.9M1531.9 994.5v-4.8M1535.1 994.5v-8.9M1543.3 994.5v-7.5M1546.0 994.5v-3.2M1558.2 994.5v-4.2M1565.0 994.5v-3.2M1566.4 994.5v-2.2M1567.8 994.5v-6.0M1569.1 994.5v-0.6M1571.8 994.5v-5.3M1615.5 994.5v-1.6M1619.6 994.5v-1.6M1648.1 994.5v-0.8M1653.6 994.5v-0.9M1654.9 994.5v-2.0M1659.0 994.5v-0.9M1668.5 994.5v-1.0M1672.6 994.5v-0.8M1679.4 994.5v-0.6M1695.7 994.5v-1.2M1701.2 994.5v-1.7M1710.7 994.5v-0.7M1712.0 994.5v-1.8M1735.5 994.5v-3.9M1738.2 994.5v-7.3M1742.3 994.5v-3.9M1745.0 994.5v-6.7M1757.1 994.5v-1.3M1765.2 994.5v-0.9M1766.6 994.5v-2.4M1769.3 994.5v-0.6M1774.7 994.5v-0.7M1778.8 994.5v-1.1M1780.2 994.5v-2.6M1781.5 994.5v-3.3M1784.3 994.5v-2.2M1791.6 994.5v-0.6M1792.9 994.5v-1.9M1799.7 994.5v-2.5M1806.5 994.5v-1.3M1807.9 994.5v-3.6M1809.3 994.5v-0.7M1813.3 994.5v-1.4M1817.4 994.5v-3.6M1820.1 994.5v-5.0M1821.5 994.5v-2.5M1827.1 994.5v-3.7M1835.3 994.5v-4.5M1840.7 994.5v-7.0M1843.4 994.5v-3.0M1846.1 994.5v-5.3M1847.5 994.5v-3.4M1848.9 994.5v-3.7M1851.6 994.5v-2.5M1852.9 994.5v-6.4M1854.3 994.5v-2.7M1857.0 994.5v-6.1M1859.7 994.5v-5.0M1863.8 994.5v-4.6M1866.5 994.5v-6.2M1869.3 994.5v-4.0M1877.2 994.5v-1.6M1878.6 994.5v-2.2M1886.7 994.5v-3.5M1897.6 994.5v-3.8M1899.0 994.5v-3.6M1904.4 994.5v-3.2M1907.1 994.5v-3.5M1916.6 994.5v-2.7M1919.4 994.5v-3.0M1923.1 994.5v-7.2M1927.1 994.5v-3.3M1928.5 994.5v-8.4M1931.5 994.5v-1.0M1949.2 994.5v-0.8M1953.3 994.5v-1.6M52.0 994.5v-32.0M274.0 994.5v-45.0M298.0 994.5v-36.0M322.0 994.5v-34.0M343.0 994.5v-41.0M347.0 994.5v-35.0M667.0 994.5v-30.0M690.0 994.5v-35.0M745.6 994.5v-42.0M750.0 994.5v-25.0M961.0 994.5v-30.0M1012.0 994.5v-15.0M1057.0 994.5v-38.0M1073.2 994.5v-48.0M1105.0 994.5v-22.0M1111.0 994.5v-16.0M1117.3 994.5v-42.0M1137.7 994.5v-68.0M1140.0 994.5v-20.0M1152.2 994.5v-33.0M1158.0 994.5v-8.0M1216.3 994.5v-10.0M1360.3 994.5v-14.0M1548.0 994.5v-13.0M1789.5 994.5v-10.0M1865.5 994.5v-14.0M1957.0 994.5v-3.0" stroke="#8fbfae" stroke-width="0.95" fill="none"/><path d="M42.0 994.5v-6.3M52.8 994.5v-6.1M68.9 994.5v-11.2M94.5 994.5v-5.9M116.3 994.5v-4.5M123.1 994.5v-9.6M135.3 994.5v-10.2M136.7 994.5v-4.0M138.1 994.5v-2.6M140.2 994.5v-9.1M149.7 994.5v-3.6M163.7 994.5v-6.8M165.0 994.5v-6.4M182.9 994.5v-17.1M193.8 994.5v-5.9M226.4 994.5v-11.3M230.5 994.5v-19.5M251.5 994.5v-16.6M254.2 994.5v-34.2M265.1 994.5v-32.9M270.5 994.5v-33.4M280.1 994.5v-28.5M284.1 994.5v-30.2M289.6 994.5v-11.0M301.4 994.5v-31.9M302.8 994.5v-16.0M306.8 994.5v-21.2M323.2 994.5v-28.9M332.7 994.5v-11.0M334.0 994.5v-32.9M335.4 994.5v-10.3M352.2 994.5v-2.2M365.8 994.5v-2.0M382.2 994.5v-0.6M433.5 994.5v-2.7M434.9 994.5v-0.6M452.5 994.5v-0.6M459.3 994.5v-0.6M462.1 994.5v-3.6M468.9 994.5v-5.3M483.8 994.5v-2.9M487.9 994.5v-2.5M519.2 994.5v-0.7M520.5 994.5v-1.0M550.8 994.5v-2.6M553.5 994.5v-7.2M569.8 994.5v-11.5M575.2 994.5v-16.3M591.7 994.5v-1.3M605.3 994.5v-7.1M610.7 994.5v-1.4M618.9 994.5v-1.2M620.3 994.5v-1.4M636.9 994.5v-4.9M645.3 994.5v-7.6M653.5 994.5v-8.9M657.6 994.5v-8.6M660.3 994.5v-12.0M675.2 994.5v-20.3M676.6 994.5v-7.3M680.7 994.5v-24.3M682.0 994.5v-7.4M705.4 994.5v-11.4M706.8 994.5v-16.4M715.0 994.5v-11.5M716.1 994.5v-14.7M725.6 994.5v-10.6M727.0 994.5v-24.1M731.1 994.5v-12.3M732.4 994.5v-29.8M740.8 994.5v-26.6M746.1 994.5v-12.0M748.9 994.5v-26.8M750.2 994.5v-17.9M751.6 994.5v-25.0M752.4 994.5v-9.6M756.4 994.5v-3.1M760.5 994.5v-9.7M761.9 994.5v-10.8M773.2 994.5v-1.9M780.0 994.5v-1.0M829.0 994.5v-6.9M830.3 994.5v-8.6M858.1 994.5v-0.8M861.5 994.5v-1.9M902.3 994.5v-1.7M915.9 994.5v-1.3M943.0 994.5v-3.1M945.1 994.5v-10.1M950.6 994.5v-5.0M963.0 994.5v-11.1M980.5 994.5v-8.8M983.3 994.5v-2.5M992.8 994.5v-2.9M998.2 994.5v-4.0M1016.6 994.5v-6.2M1019.3 994.5v-3.8M1024.8 994.5v-2.9M1030.2 994.5v-6.5M1039.7 994.5v-12.6M1061.2 994.5v-17.4M1074.7 994.5v-10.7M1077.4 994.5v-10.6M1104.1 994.5v-5.1M1110.9 994.5v-5.3M1119.6 994.5v-7.3M1123.6 994.5v-6.5M1131.8 994.5v-13.2M1140.0 994.5v-2.6M1145.5 994.5v-1.1M1157.3 994.5v-2.0M1175.0 994.5v-1.7M1216.1 994.5v-1.5M1244.7 994.5v-1.1M1250.1 994.5v-0.8M1267.1 994.5v-1.6M1275.3 994.5v-2.6M1286.2 994.5v-1.1M1288.9 994.5v-2.6M1309.3 994.5v-3.9M1312.0 994.5v-1.1M1343.3 994.5v-3.1M1359.3 994.5v-5.6M1363.4 994.5v-3.0M1383.4 994.5v-0.7M1390.2 994.5v-2.6M1395.6 994.5v-3.6M1397.0 994.5v-2.3M1405.1 994.5v-0.7M1413.3 994.5v-2.4M1414.6 994.5v-1.1M1418.7 994.5v-2.7M1431.0 994.5v-2.5M1436.4 994.5v-5.8M1450.8 994.5v-9.2M1453.5 994.5v-5.6M1462.9 994.5v-9.0M1467.0 994.5v-18.9M1476.8 994.5v-7.8M1480.9 994.5v-9.8M1482.3 994.5v-2.4M1491.8 994.5v-6.8M1494.5 994.5v-4.8M1497.2 994.5v-5.9M1513.9 994.5v-4.0M1529.1 994.5v-9.9M1536.5 994.5v-9.3M1548.7 994.5v-1.8M1555.5 994.5v-4.8M1561.0 994.5v-3.7M1562.3 994.5v-1.0M1573.2 994.5v-1.2M1614.1 994.5v-1.9M1626.4 994.5v-0.8M1635.9 994.5v-1.4M1640.0 994.5v-0.7M1675.3 994.5v-0.9M1697.1 994.5v-0.6M1699.8 994.5v-1.9M1705.2 994.5v-1.7M1708.0 994.5v-1.4M1734.2 994.5v-10.1M1741.0 994.5v-10.5M1747.8 994.5v-6.1M1776.1 994.5v-3.9M1787.0 994.5v-3.0M1789.7 994.5v-2.2M1794.3 994.5v-0.9M1802.5 994.5v-4.3M1810.6 994.5v-2.6M1816.1 994.5v-1.4M1833.9 994.5v-7.9M1838.0 994.5v-7.3M1839.3 994.5v-4.2M1844.8 994.5v-9.0M1867.9 994.5v-8.2M1884.0 994.5v-2.0M1908.5 994.5v-1.4M1911.2 994.5v-3.0M1924.4 994.5v-7.6M1932.9 994.5v-1.1M1938.3 994.5v-0.9M700.0 994.5v-50.0" stroke="#c2ddd3" stroke-width="0.95" fill="none"/><path d="M744.2 994.5v-218.0M1925.4 994.5v-43.0" stroke="#a9cfc0" stroke-width="0.95" fill="none"/><path d="M1531.3 994.5v-42.0" stroke="#b9b3bb" stroke-width="0.95" fill="none"/>
<path d="M35.3 383.9 L36.9 375.8 L40.1 371.0 L42.5 344.4 L44.5 341.2 L45.8 297.7 L47.1 296.1 L49.8 323.5 L51.4 324.3 L53.0 296.1 L55.4 312.2 L57.8 300.1 L59.5 300.9 L61.1 320.3 L61.9 329.9 L65.1 325.1 L66.7 333.1 L69.9 318.6 L71.5 339.6 L74.8 323.5 L76.4 328.3 L79.6 343.6 L83.6 331.5 L86.0 334.8 L88.4 323.5 L90.9 336.4 L92.5 342.8 L95.7 341.2 L98.9 348.4 L102.1 346.0 L105.3 334.8 L107.8 335.6 L111.0 348.4 L114.2 342.0 L116.6 340.4 L120.6 347.6 L124.7 357.3 L126.3 355.7 L127.9 377.4 L130.3 366.2 L133.5 363.7 L135.1 375.8 L138.4 354.1 L140.8 370.2 L141.6 378.2 L144.0 371.8 L145.6 384.7 L148.8 381.4 L151.2 402.4 L153.7 400.8 L156.9 413.7 L159.3 407.2 L162.5 419.3 L165.7 408.8 L169.0 418.5 L170.6 434.6 L172.2 438.6 L173.0 462.0 L175.4 442.6 L179.4 462.0 L181.8 442.6 L184.3 439.4 L185.9 424.9 L187.5 429.8 L189.9 408.8 L192.3 410.4 L194.7 423.3 L196.3 452.3 L198.7 450.7 L200.4 458.7 L202.8 441.0 L204.4 442.6 L206.0 415.3 L209.2 433.0 L210.8 447.5 L214.8 444.3 L217.3 424.9 L220.5 434.6 L223.7 413.7 L226.1 415.3 L228.5 421.7 L230.1 420.1 L232.6 441.0 L234.2 450.7 L236.6 455.5 L239.0 464.4 L240.6 457.1 L243.0 431.4 L245.4 433.0 L247.1 440.2 L250.3 437.8 L251.9 444.3 L253.5 424.9 L255.9 429.8 L258.3 421.7 L259.9 418.5 L261.5 395.9 L264.0 378.2 L266.4 404.0 L269.6 383.1 L271.2 379.8 L274.4 338.0 L276.0 339.6 L277.6 373.4 L280.1 392.7 L282.5 383.1 L284.1 395.9 L285.7 392.7 L287.3 412.0 L288.9 445.1 L292.1 428.1 L295.4 429.8 L297.8 424.9 L299.4 399.2 L301.8 415.3 L305.0 430.6 L308.2 421.7 L309.9 413.7 L313.1 420.1 L314.7 384.7 L317.7 405.8 L320.1 420.3 L324.2 410.6 L326.6 421.9 L329.8 420.3 L330.6 436.4 L334.6 434.8 L336.2 412.2 L337.8 405.8 L339.5 428.3 L340.3 447.6 L341.9 457.3 L343.5 429.9 L345.9 454.1 L349.1 442.8 L350.7 484.7 L353.9 470.2 L356.4 469.4 L357.2 481.4 L362.0 479.8 L364.4 460.5 L367.6 458.9 L370.9 451.7 L374.1 454.9 L377.3 460.5 L380.5 463.7 L382.9 463.7 L385.3 476.6 L388.6 484.7 L391.8 489.5 L428.8 438.8 L432.9 441.2 L435.3 447.6 L436.6 458.9 L439.3 449.2 L441.7 454.1 L444.1 450.9 L446.5 444.4 L449.0 442.0 L451.4 444.4 L453.8 455.7 L455.4 442.0 L458.6 442.0 L461.8 447.6 L464.3 454.1 L466.7 452.5 L468.3 468.6 L470.7 471.0 L473.1 465.3 L475.5 471.8 L477.9 477.4 L481.2 470.2 L485.2 470.2 L487.6 458.9 L490.8 458.1 L494.0 454.9 L497.3 456.5 L500.5 454.9 L504.5 459.7 L507.7 452.5 L511.0 450.9 L513.4 457.3 L515.8 463.7 L519.0 463.7 L522.2 474.2 L524.6 466.2 L527.9 469.4 L529.5 467.0 L531.9 470.2 L535.9 463.7 L539.1 468.6 L542.4 465.3 L544.0 475.0 L546.4 479.8 L550.4 478.2 L553.6 463.7 L556.0 465.3 L557.6 473.4 L559.3 499.2 L564.1 495.9 L566.5 511.2 L569.7 510.4 L572.1 504.0 L575.4 515.3 L578.6 529.8 L581.0 544.3 L582.6 545.1 L585.0 533.0 L587.4 537.8 L589.9 524.9 L592.3 520.1 L594.7 516.9 L596.8 521.3 L598.6 531.9 L601.3 532.8 L603.0 519.5 L607.4 513.3 L610.1 515.1 L612.8 528.3 L615.4 518.6 L619.0 518.6 L620.7 533.6 L622.5 539.0 L626.9 531.9 L630.5 538.1 L632.2 547.8 L634.9 542.5 L635.8 567.3 L639.3 554.0 L642.0 553.1 L643.8 583.2 L645.5 592.1 L649.1 585.0 L651.7 595.6 L653.5 576.1 L657.0 584.1 L660.6 560.2 L665.0 564.6 L666.8 539.0 L670.3 538.1 L673.9 546.0 L676.5 570.8 L680.1 562.9 L681.8 583.2 L682.7 590.3 L685.4 584.1 L686.3 608.0 L688.9 616.0 L690.7 595.6 L695.1 597.4 L696.9 612.4 L700.1 612.4 L700.4 583.2 L703.1 604.5 L705.7 596.5 L708.4 604.5 L711.9 617.8 L714.6 611.6 L716.4 631.0 L719.9 629.3 L722.6 640.8 L726.1 631.9 L728.8 630.2 L732.3 639.9 L734.1 650.5 L735.8 660.3 L736.7 641.7 L739.4 647.0 L741.1 673.5 L742.9 706.3 L747.3 689.5 L750.0 647.0 L752.7 647.0 L755.3 663.8 L758.0 643.4 L759.7 641.7 L763.3 640.8 L765.1 654.1 L768.6 660.3 L771.3 647.0 L774.8 641.7 L777.4 646.1 L781.9 638.1 L785.4 649.6 L787.2 637.2 L824.4 633.7 L825.3 654.1 L827.0 656.7 L829.7 639.9 L833.2 641.7 L835.0 664.7 L838.5 653.2 L840.3 654.1 L843.9 659.4 L845.6 680.6 L847.4 684.2 L850.9 678.9 L855.4 667.3 L858.9 673.5 L863.3 670.0 L865.1 671.8 L868.6 666.5 L873.1 662.0 L877.5 658.5 L881.0 659.9 L883.9 664.2 L887.5 659.9 L891.2 657.7 L894.8 660.6 L897.7 662.0 L901.3 662.0 L905.7 669.3 L908.6 664.9 L911.4 665.7 L913.6 676.5 L918.0 670.7 L921.6 672.9 L923.8 670.0 L926.7 670.0 L928.1 685.2 L931.7 683.8 L933.9 700.4 L936.8 692.5 L940.4 708.4 L944.8 698.3 L946.2 707.0 L949.9 714.9 L952.0 708.4 L955.7 718.6 L957.4 730.1 L959.3 780.1 L962.2 752.6 L965.1 779.4 L968.7 753.3 L972.3 760.6 L975.2 740.3 L976.7 743.2 L978.8 762.0 L981.7 754.8 L984.6 749.7 L988.3 754.1 L992.6 745.4 L994.8 759.1 L998.4 766.4 L1000.6 770.7 L1003.5 778.7 L1007.1 775.8 L1009.3 763.5 L1012.2 730.9 L1014.3 744.6 L1017.2 750.4 L1020.9 749.0 L1025.2 762.0 L1028.8 750.4 L1032.5 757.7 L1036.1 749.0 L1039.0 736.7 L1041.9 747.5 L1046.2 758.4 L1049.1 728.7 L1052.8 731.6 L1054.9 727.2 L1057.1 705.5 L1059.3 694.6 L1061.4 699.7 L1064.3 718.6 L1066.5 725.8 L1069.4 718.6 L1070.9 749.0 L1074.5 727.2 L1075.9 750.4 L1078.8 762.0 L1080.3 770.7 L1083.9 759.1 L1086.8 772.9 L1088.3 754.8 L1090.4 760.6 L1093.3 772.2 L1095.5 757.7 L1099.1 758.4 L1101.3 763.5 L1104.2 740.3 L1107.1 740.3 L1108.6 729.4 L1111.4 722.2 L1115.1 712.8 L1116.5 689.6 L1118.7 688.1 L1120.9 705.5 L1123.0 688.1 L1125.2 684.5 L1127.4 707.0 L1129.6 689.6 L1131.7 699.7 L1133.9 673.6 L1135.4 673.6 L1136.1 727.2 L1138.3 721.4 L1141.2 707.0 L1143.3 703.3 L1146.2 711.3 L1149.1 707.7 L1151.3 715.7 L1152.0 680.9 L1154.9 682.3 L1157.1 671.4 L1157.4 670.7 L1159.6 673.6 L1161.7 678.0 L1163.9 680.1 L1165.4 696.8 L1167.5 699.0 L1169.7 695.4 L1170.4 680.9 L1172.6 688.1 L1174.8 695.4 L1178.4 701.9 L1180.6 704.1 L1215.4 671.4 L1218.3 666.4 L1219.7 677.2 L1222.6 675.1 L1225.5 680.9 L1227.7 677.2 L1229.1 669.3 L1231.3 676.5 L1233.5 667.8 L1236.4 678.0 L1239.3 678.0 L1242.2 670.0 L1245.1 668.6 L1248.7 672.9 L1251.6 675.1 L1254.5 671.4 L1257.4 672.9 L1259.6 670.7 L1263.2 674.3 L1264.6 689.6 L1267.5 692.5 L1268.3 688.1 L1270.4 692.5 L1271.9 705.5 L1274.8 704.1 L1279.1 712.8 L1283.5 714.2 L1288.6 730.1 L1291.4 721.4 L1295.8 712.0 L1299.4 717.1 L1302.3 721.4 L1304.5 731.6 L1308.1 733.0 L1310.3 728.7 L1313.2 735.2 L1316.1 730.1 L1319.0 721.4 L1320.4 734.5 L1321.9 720.7 L1324.8 731.6 L1327.7 730.1 L1330.6 717.1 L1333.5 728.7 L1336.4 721.4 L1340.7 728.7 L1343.6 723.6 L1348.7 727.2 L1352.3 723.6 L1355.9 717.1 L1358.1 712.8 L1359.6 692.5 L1361.7 691.0 L1364.6 696.1 L1366.8 690.3 L1369.7 688.1 L1372.6 685.9 L1375.5 707.0 L1377.0 714.2 L1379.9 699.7 L1384.2 696.8 L1387.1 705.5 L1390.0 691.0 L1392.2 685.2 L1394.3 692.5 L1397.2 702.6 L1400.9 692.5 L1403.0 692.5 L1405.9 704.1 L1409.6 707.0 L1413.2 718.6 L1414.6 704.1 L1417.5 715.7 L1421.9 713.5 L1425.5 698.3 L1428.4 692.5 L1431.3 688.1 L1433.5 704.1 L1436.4 699.7 L1437.8 683.8 L1440.3 684.9 L1441.7 700.9 L1444.6 705.2 L1445.4 677.7 L1447.5 678.4 L1449.0 683.5 L1451.9 683.5 L1453.3 698.0 L1454.1 715.4 L1455.5 705.2 L1457.7 705.2 L1459.9 735.7 L1462.0 729.9 L1463.5 725.5 L1465.7 727.0 L1468.6 702.3 L1470.7 689.3 L1472.9 690.0 L1474.3 702.3 L1477.2 698.0 L1479.4 699.4 L1481.6 708.1 L1483.0 721.9 L1486.7 706.7 L1488.8 708.1 L1491.0 716.8 L1491.7 727.0 L1494.6 728.4 L1498.3 738.6 L1500.4 731.3 L1502.6 732.8 L1504.1 748.7 L1508.4 757.4 L1510.6 745.8 L1513.5 745.8 L1514.9 733.5 L1519.3 735.7 L1522.2 729.9 L1524.3 738.6 L1526.5 724.1 L1528.7 722.6 L1530.9 727.0 L1533.0 719.7 L1535.2 741.4 L1538.1 742.2 L1539.6 753.0 L1543.2 751.6 L1546.8 762.5 L1548.3 745.8 L1551.2 754.5 L1554.1 750.1 L1555.5 738.6 L1557.7 737.1 L1559.9 760.3 L1563.5 758.8 L1566.4 755.9 L1568.6 744.3 L1571.4 755.9 L1573.6 741.4 L1576.5 740.0 L1611.3 727.0 L1612.8 718.3 L1614.9 716.8 L1617.1 726.2 L1620.0 712.5 L1622.2 709.6 L1623.6 721.2 L1625.8 729.1 L1628.7 722.6 L1630.1 716.8 L1633.8 715.4 L1637.4 719.0 L1640.3 711.7 L1643.2 718.3 L1645.4 725.5 L1649.0 723.3 L1651.9 727.0 L1654.1 732.8 L1656.2 748.7 L1659.1 745.8 L1662.0 748.7 L1664.9 744.3 L1666.4 738.6 L1669.3 736.4 L1672.9 748.7 L1676.5 744.3 L1678.7 739.3 L1682.3 744.3 L1685.9 743.6 L1689.6 747.2 L1691.7 747.2 L1694.6 743.6 L1697.5 753.0 L1700.4 759.6 L1704.1 757.4 L1707.7 754.5 L1709.9 752.3 L1713.5 750.9 L1715.7 748.7 L1715.8 748.7 L1718.4 757.4 L1720.3 769.0 L1723.2 771.9 L1726.1 771.9 L1728.6 776.7 L1730.0 807.6 L1731.9 821.2 L1732.9 861.7 L1736.7 850.1 L1738.6 871.4 L1740.6 888.8 L1743.5 899.4 L1745.4 875.3 L1748.3 883.0 L1753.1 870.4 L1756.0 880.1 L1761.8 873.3 L1764.7 875.3 L1767.6 889.8 L1773.4 888.8 L1776.3 875.3 L1778.3 852.1 L1780.2 850.1 L1783.1 865.6 L1786.0 850.1 L1787.9 842.4 L1789.3 803.8 L1790.8 805.7 L1792.8 828.9 L1793.7 836.6 L1797.6 846.3 L1800.5 829.9 L1802.4 832.8 L1804.3 871.4 L1808.2 872.4 L1810.1 863.7 L1814.0 861.7 L1816.9 869.5 L1818.8 880.1 L1821.7 883.0 L1823.7 933.2 L1827.5 912.0 L1830.4 919.7 L1833.3 952.6 L1837.2 963.2 L1838.2 935.2 L1840.1 942.9 L1843.0 919.7 L1844.9 894.6 L1847.8 900.4 L1851.7 894.6 L1853.6 922.6 L1858.5 919.7 L1859.4 892.7 L1863.3 902.3 L1865.2 867.5 L1868.1 867.5 L1870.0 900.4 L1872.9 904.3 L1874.9 887.8 L1879.7 895.6 L1882.6 877.2 L1888.4 874.3 L1891.3 881.1 L1893.2 897.5 L1895.2 896.5 L1898.1 865.6 L1901.0 865.6 L1903.9 884.0 L1906.8 884.9 L1909.7 890.7 L1912.6 892.7 L1915.5 904.3 L1917.4 906.2 L1918.4 919.7 L1922.2 943.9 L1924.2 913.9 L1925.1 879.1 L1927.1 880.1 L1930.0 890.7 L1936.7 890.7 L1943.5 903.3 L1951.2 893.6 L1957.0 897.5 L1958.0 882.0 L1961.8 876.2 L1963.8 879.1 L1965.7 898.5 L1968.2 900.4" fill="none" stroke="#3c75b4" stroke-width="5.9" stroke-linejoin="round" stroke-linecap="round"/>
<text x="1983.5" y="346.2" font-size="40.3" fill="#757575" font-weight="700" text-anchor="start" textLength="110" lengthAdjust="spacingAndGlyphs" >24.00</text>
<text x="1983.5" y="538.3" font-size="40.3" fill="#757575" font-weight="700" text-anchor="start" textLength="110" lengthAdjust="spacingAndGlyphs" >22.00</text>
<text x="1983.5" y="733.1999999999999" font-size="40.3" fill="#757575" font-weight="700" text-anchor="start" textLength="110" lengthAdjust="spacingAndGlyphs" >20.00</text>
<text x="1989" y="925.0" font-size="40.3" fill="#757575" font-weight="700" text-anchor="start" textLength="96" lengthAdjust="spacingAndGlyphs" >18.00</text>
<path d="M1968.3 898.3L1983.7 875.8H2070C2082 875.8 2089 886 2089 899C2089 909 2086 917 2081 920.6H1983.7Z" fill="#f4bc44"/>
<text x="1982.3" y="911.4" font-size="39.5" fill="#fff" font-weight="700" text-anchor="start" textLength="87" lengthAdjust="spacingAndGlyphs" >18.12</text>
<text x="135.6" y="1066.5" font-size="37" fill="#737373" font-weight="700" text-anchor="middle" textLength="79" lengthAdjust="spacingAndGlyphs" >4/13</text>
<text x="272.2" y="1066.5" font-size="37" fill="#737373" font-weight="700" text-anchor="middle" textLength="43.5" lengthAdjust="spacingAndGlyphs" >10</text>
<text x="393" y="1066.5" font-size="37" fill="#737373" font-weight="700" text-anchor="middle" textLength="41" lengthAdjust="spacingAndGlyphs" >18</text>
<text x="529.4" y="1066.5" font-size="37" fill="#737373" font-weight="700" text-anchor="middle" textLength="79" lengthAdjust="spacingAndGlyphs" >4/14</text>
<text x="665.6" y="1066.5" font-size="37" fill="#737373" font-weight="700" text-anchor="middle" textLength="43.5" lengthAdjust="spacingAndGlyphs" >10</text>
<text x="786" y="1066.5" font-size="37" fill="#737373" font-weight="700" text-anchor="middle" textLength="41" lengthAdjust="spacingAndGlyphs" >18</text>
<text x="922.8" y="1066.5" font-size="37" fill="#737373" font-weight="700" text-anchor="middle" textLength="79" lengthAdjust="spacingAndGlyphs" >4/15</text>
<text x="1059.3" y="1066.5" font-size="37" fill="#737373" font-weight="700" text-anchor="middle" textLength="43.5" lengthAdjust="spacingAndGlyphs" >10</text>
<text x="1180" y="1066.5" font-size="37" fill="#737373" font-weight="700" text-anchor="middle" textLength="41" lengthAdjust="spacingAndGlyphs" >18</text>
<text x="1316.5" y="1066.5" font-size="37" fill="#737373" font-weight="700" text-anchor="middle" textLength="79" lengthAdjust="spacingAndGlyphs" >4/16</text>
<text x="1453.2" y="1066.5" font-size="37" fill="#737373" font-weight="700" text-anchor="middle" textLength="43.5" lengthAdjust="spacingAndGlyphs" >10</text>
<text x="1574" y="1066.5" font-size="37" fill="#737373" font-weight="700" text-anchor="middle" textLength="41" lengthAdjust="spacingAndGlyphs" >18</text>
<text x="1711" y="1066.5" font-size="37" fill="#737373" font-weight="700" text-anchor="middle" textLength="76.5" lengthAdjust="spacingAndGlyphs" >4/17</text>
<text x="1846.5" y="1066.5" font-size="37" fill="#737373" font-weight="700" text-anchor="middle" textLength="43.5" lengthAdjust="spacingAndGlyphs" >10</text>
<rect x="0" y="1106" width="2208" height="1.15" fill="#9e9e9e"/>
<text x="77.2" y="1196.5" font-size="39" fill="#a0a4a8" font-weight="700" text-anchor="middle" textLength="50" lengthAdjust="spacingAndGlyphs" >1D</text>
<text x="397.8" y="1196.5" font-size="39" fill="#a0a4a8" font-weight="700" text-anchor="middle" textLength="55" lengthAdjust="spacingAndGlyphs" >1M</text>
<text x="558" y="1196.5" font-size="39" fill="#a0a4a8" font-weight="700" text-anchor="middle" textLength="61" lengthAdjust="spacingAndGlyphs" >6M</text>
<text x="719" y="1196.5" font-size="39" fill="#a0a4a8" font-weight="700" text-anchor="middle" textLength="81" lengthAdjust="spacingAndGlyphs" >YTD</text>
<text x="880" y="1196.5" font-size="39" fill="#a0a4a8" font-weight="700" text-anchor="middle" textLength="45" lengthAdjust="spacingAndGlyphs" >1Y</text>
<text x="1040" y="1196.5" font-size="39" fill="#a0a4a8" font-weight="700" text-anchor="middle" textLength="52" lengthAdjust="spacingAndGlyphs" >5Y</text>
<text x="1202" y="1196.5" font-size="39" fill="#a0a4a8" font-weight="700" text-anchor="middle" textLength="71" lengthAdjust="spacingAndGlyphs" >ALL</text>
<text x="238.5" y="1196.5" font-size="39" fill="#23518c" font-weight="700" text-anchor="middle" textLength="55" lengthAdjust="spacingAndGlyphs" >5D</text>
<rect x="0" y="1230" width="1283" height="12" fill="#c9cdd7"/><rect x="160" y="1230" width="161" height="12" fill="#23518c"/>
<text x="1581" y="1188" font-size="38.6" fill="#9b9b9b" font-weight="700" text-anchor="start" textLength="188.5" lengthAdjust="spacingAndGlyphs" >Indicators</text>
<text x="1901" y="1188" font-size="38.6" fill="#9b9b9b" font-weight="700" text-anchor="start" textLength="231.5" lengthAdjust="spacingAndGlyphs" >Chart Styles</text>
<path d="M1788.5 1173L1803 1182.7L1817.5 1173M2151.7 1173L2166 1182.7L2180.3 1173" fill="none" stroke="#b6b6b6" stroke-width="4.6" stroke-linecap="round" stroke-linejoin="round"/>
</svg></body></html>
